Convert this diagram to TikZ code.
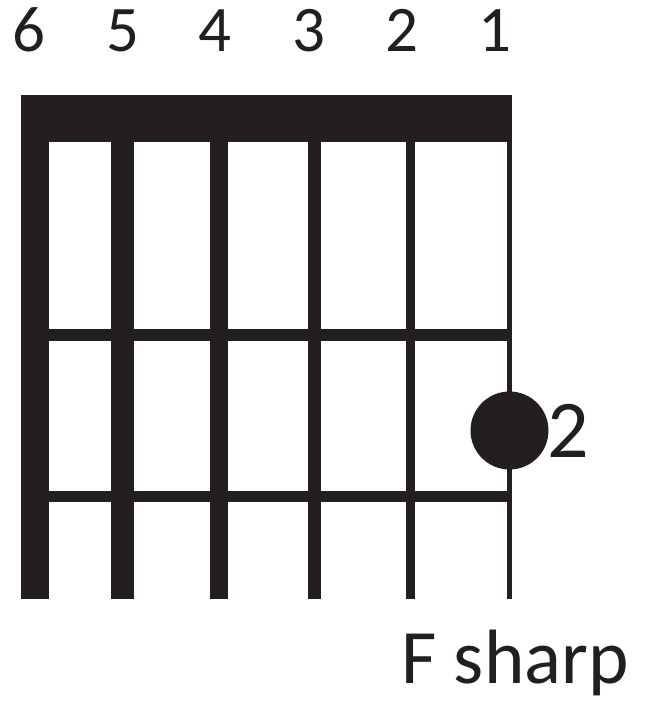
\documentclass[tikz,border=0pt]{standalone}
\usepackage{fontspec}
\setmainfont{Carlito}
\definecolor{ink}{HTML}{231F20}
\begin{document}
\begin{tikzpicture}[x=1pt,y=-1pt,
  bar/.style={fill=ink,draw=none},
  lbl/.style={inner sep=0pt,text=ink,anchor=base},
  strnum/.style={lbl,font=\fontsize{65}{78}\selectfont}]
\useasboundingbox (0,0) rectangle (656,702);
% nut
\fill[bar] (21,95) rectangle (512,142);
% strings
\fill[bar] (21,142) rectangle (49,599);
\fill[bar] (111,142) rectangle (134,599);
\fill[bar] (210,142) rectangle (228,599);
\fill[bar] (308,142) rectangle (321,599);
\fill[bar] (405.5,142) rectangle (415,599);
\fill[bar] (507.3,142) rectangle (511.7,599);
% frets
\fill[bar] (49,329) rectangle (507.5,341);
\fill[bar] (49,491) rectangle (507.5,502);
% finger dot
\fill[bar] (509.5,430.5) circle (39);
% labels
\node[strnum] (n6) at (29,51) {6};
\node[strnum] (n5) at (123,51) {5};
\node[strnum] (n4) at (215,51) {4};
\node[strnum] (n3) at (308.5,51) {3};
\node[strnum] (n2) at (402,51) {2};
\node[strnum] (n1) at (495,51) {1};
\node[lbl,anchor=base west,font=\fontsize{82}{98}\selectfont] (finger) at (547,457) {2};
\node[lbl,anchor=base west,font=\fontsize{77}{92}\selectfont] (name) at (401,683) {F sharp};
\end{tikzpicture}
\end{document}
